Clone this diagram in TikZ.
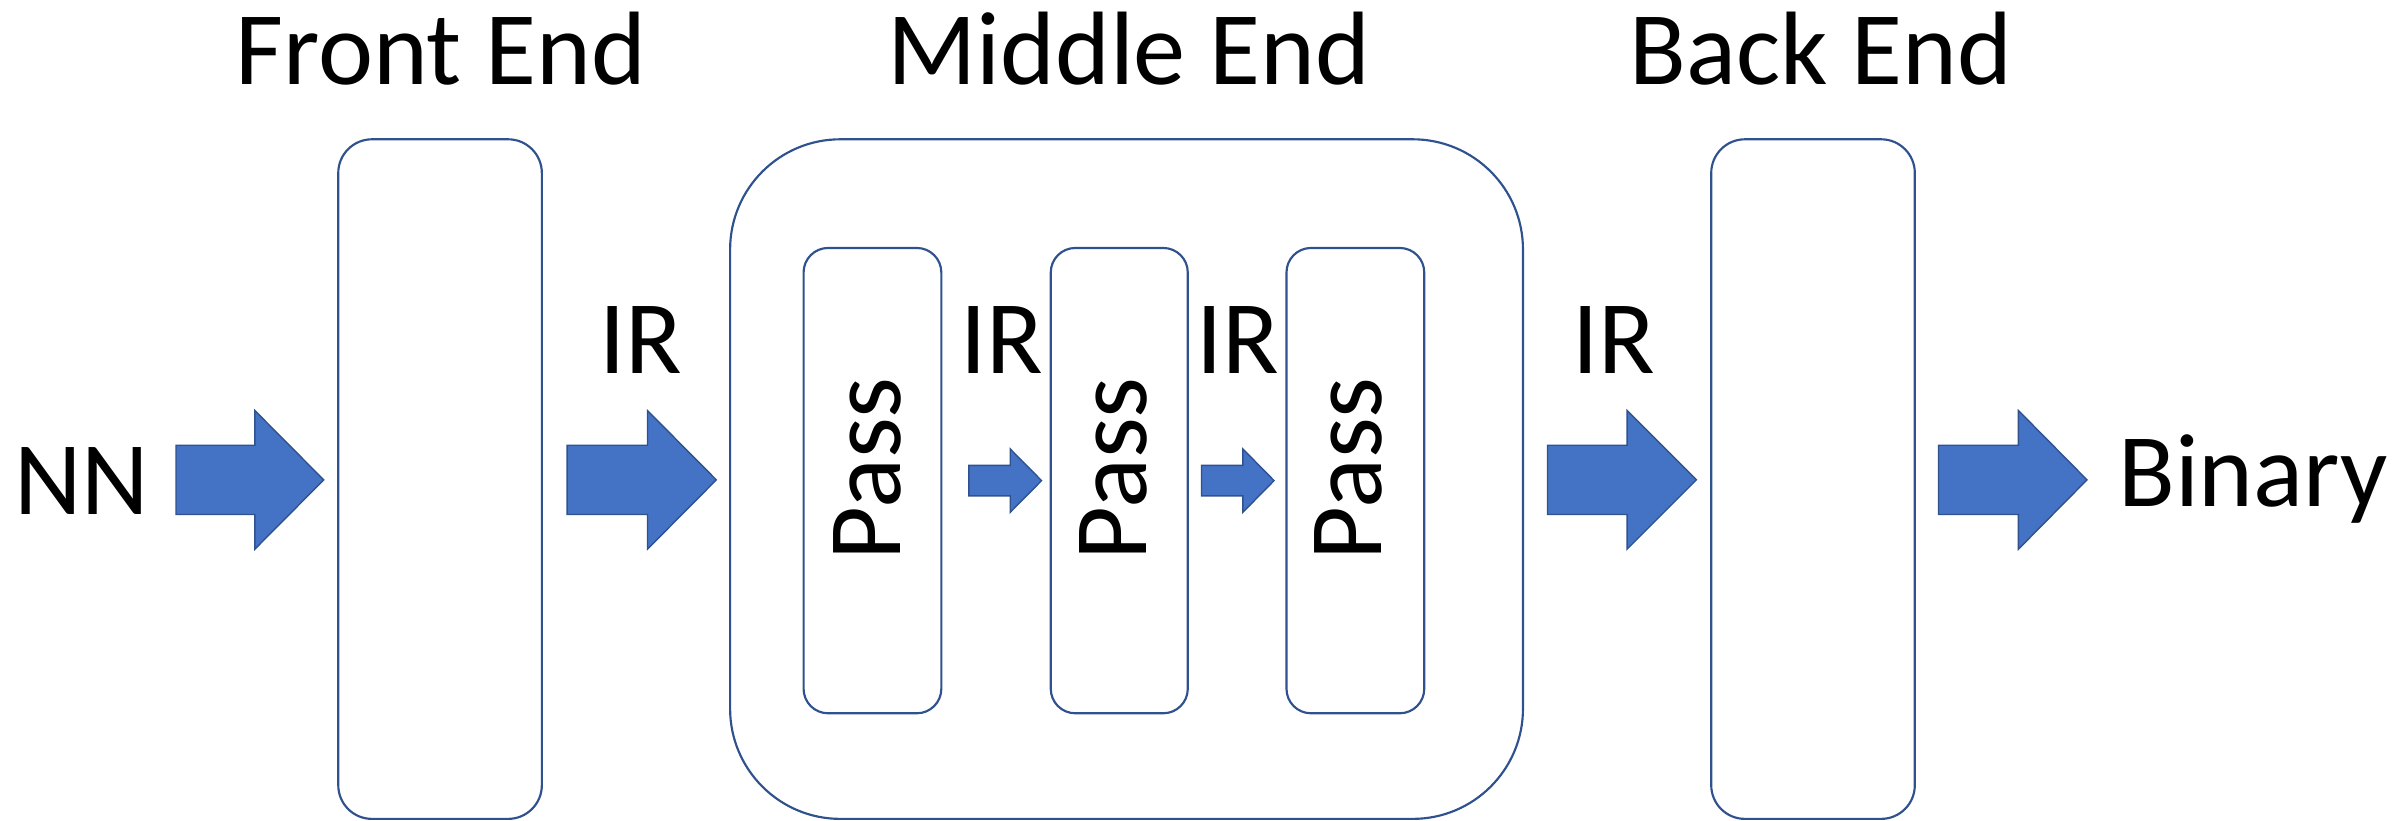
\documentclass[tikz,border=0pt]{standalone}
\usepackage{fontspec}
\setmainfont{Carlito}
\definecolor{edge}{HTML}{2F528F}
\definecolor{afill}{HTML}{4472C4}
\tikzset{
  box/.style={draw=edge, line width=2pt},
  blk/.style={draw=edge, fill=afill, line width=1.3pt, line join=miter},
  lbl/.style={inner sep=0pt, anchor=base, font=\fontsize{97}{100}\selectfont},
}
\newcommand{\blockarrow}[7]{% x0, xh, x1, y, shaft half, head half, name
  \draw[blk] ({#1},{#4-#5}) -- ({#2},{#4-#5}) -- ({#2},{#4-#6}) -- ({#3},{#4}) coordinate (#7)
    -- ({#2},{#4+#6}) -- ({#2},{#4+#5}) -- ({#1},{#4+#5}) -- cycle;}
\begin{document}
\begin{tikzpicture}[x=0.05cm, y=-0.05cm]
\useasboundingbox (0,0) rectangle (1568,536);
% boxes
\draw[box, rounded corners=1.1cm] (221,91) rectangle (354,535);
\draw[box, rounded corners=3.6cm] (477,91) rectangle (995,535);
\draw[box, rounded corners=1.1cm] (1118,91) rectangle (1251,535);
\draw[box, rounded corners=0.8cm] (525,162) rectangle (615,466);
\draw[box, rounded corners=0.8cm] (686.5,162) rectangle (776,466);
\draw[box, rounded corners=0.8cm] (840.5,162) rectangle (930.5,466);
% titles
\node[lbl] (tfe) at (288,55) {Front End};
\node[lbl] (tme) at (737.5,55) {Middle End};
\node[lbl] (tbe) at (1189.5,55) {Back End};
% pass labels
\node[lbl, rotate=90] (p1) at (588.6,306.4) {Pass};
\node[lbl, rotate=90] (p2) at (749.1,306.4) {Pass};
\node[lbl, rotate=90] (p3) at (902.5,306.4) {Pass};
% side labels
\node[lbl] (nn) at (53.5,336) {NN};
\node[lbl] (bin) at (1472,331) {Binary};
\node[lbl] (ir1) at (418.5,244) {IR};
\node[lbl] (ir2) at (654.3,244) {IR};
\node[lbl] (ir3) at (808.5,244) {IR};
\node[lbl] (ir4) at (1054.5,244) {IR};
% block arrows
\blockarrow{115}{166.5}{211.5}{313.5}{22.6}{45.3}{a1}
\blockarrow{370.5}{423}{468}{313.5}{22.6}{45.3}{a2}
\blockarrow{1011}{1063}{1108.3}{313.5}{22.6}{45.3}{a3}
\blockarrow{1266.5}{1318.7}{1363.5}{313.5}{22.6}{45.3}{a4}
\blockarrow{633}{660}{680.5}{314}{10}{20.7}{s1}
\blockarrow{785}{812}{832.4}{314}{10}{20.7}{s2}
\end{tikzpicture}
\end{document}
